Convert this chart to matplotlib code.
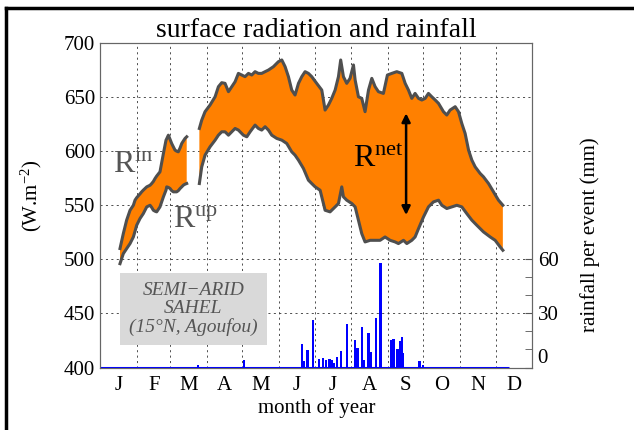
#! /usr/bin/env python3
#
# Seasonal cycle of surface radiation (incoming / upwelling envelope) and
# rainfall events at a semi-arid Sahel site.

import numpy as np
import matplotlib

matplotlib.use("Agg")
import matplotlib.pyplot as plt
from matplotlib.lines import Line2D

plt.rcParams["font.family"] = ["Liberation Serif", "DejaVu Serif"]
plt.rcParams["mathtext.fontset"] = "stix"

# Month labels (mid-month) and month boundaries, in day of year
months = ["J", "F", "M", "A", "M", "J", "J", "A", "S", "O", "N", "D"]
month_edges = [0, 31, 59, 90, 120, 151, 181, 212, 243, 273, 304, 334, 365]

# Radiation before the data gap (day of year, W m-2)
day_a = [16.5, 19.3, 22.1, 25.0, 27.8, 29.2, 30.6, 33.4, 34.8, 36.2, 39.1, 41.9,
         43.3, 44.7, 46.1, 47.5, 50.3, 53.2, 55.4, 56.0, 57.4, 58.8, 60.2, 61.6,
         63.0, 64.4, 65.8, 67.3, 68.7, 70.1, 71.5, 72.9]
rin_a = [510.0, 523.8, 536.2, 545.4, 550.0, 554.7, 557.0, 560.5, 562.4, 564.0,
         567.0, 568.5, 570.1, 572.0, 574.7, 577.0, 580.9, 597.9, 610.2, 611.5,
         614.8, 611.0, 607.1, 604.0, 601.0, 600.0, 599.4, 603.0, 607.1, 609.5,
         611.8, 613.3]
rup_a = [496.0, 505.3, 509.9, 514.6, 520.7, 526.0, 531.5, 537.7, 540.0, 542.3,
         548.5, 550.0, 548.0, 545.4, 544.5, 543.9, 548.5, 557.8, 564.0, 567.0,
         566.5, 565.5, 563.5, 562.4, 562.4, 562.4, 563.5, 565.5, 567.0, 568.6,
         569.5, 570.1]

# Incoming radiation after the gap
rin_day_b = [83.6, 85.6, 88.4, 92.6, 96.9, 99.7, 102.5, 105.3, 108.2, 111.0,
             113.8, 116.6, 119.4, 122.2, 125.1, 127.9, 130.7, 133.5, 136.3, 139.2,
             142.0, 146.2, 150.4, 153.3, 156.1, 158.9, 161.7, 164.5, 167.4, 170.2,
             173.0, 175.8, 178.6, 182.8, 187.1, 189.9, 192.7, 195.5, 198.4, 201.2,
             203.1, 205.4, 208.2, 211.0, 213.9, 215.3, 218.1, 220.9, 223.7, 226.6,
             229.4, 232.2, 235.0, 239.2, 242.6, 246.3, 250.5, 254.8, 257.6, 260.4,
             263.2, 266.0, 268.9, 271.7, 274.5, 277.3, 280.1, 283.0, 285.8, 290.0,
             292.8, 295.6, 299.9, 302.7, 305.5, 308.3, 311.2, 314.0, 316.8, 321.0,
             323.8, 328.1, 332.3, 336.5, 340.2]
rin_b = [621.0, 628.7, 636.5, 642.6, 650.3, 659.6, 663.3, 662.7, 655.0, 659.6,
         664.2, 671.9, 670.4, 668.9, 671.9, 670.4, 673.5, 671.9, 671.9, 673.5,
         675.0, 678.1, 682.7, 684.3, 678.1, 668.9, 656.5, 651.9, 662.7, 668.9,
         673.5, 671.9, 668.9, 662.7, 656.5, 638.0, 642.6, 648.8, 656.5, 668.9,
         684.3, 668.9, 662.7, 667.3, 679.7, 665.8, 650.3, 648.8, 636.5, 656.5,
         667.3, 659.6, 655.0, 653.4, 670.4, 671.9, 673.5, 671.9, 662.7, 656.5,
         648.8, 653.4, 648.8, 647.3, 648.8, 653.4, 650.3, 647.3, 644.2, 636.5,
         633.4, 638.0, 641.1, 636.5, 625.6, 616.4, 601.0, 591.7, 585.5, 579.4,
         576.3, 570.1, 562.4, 554.7, 550.0]

# Upwelling radiation after the gap
rup_day_b = [83.6, 85.6, 88.4, 92.6, 96.9, 99.7, 102.5, 105.3, 108.2, 111.0,
             113.8, 116.6, 120.8, 123.7, 126.5, 130.7, 133.5, 136.3, 139.2, 142.0,
             144.8, 149.0, 153.3, 157.5, 161.7, 164.5, 167.4, 171.6, 175.8, 178.6,
             181.5, 185.7, 189.9, 194.1, 198.4, 201.2, 204.0, 205.4, 208.2, 212.5,
             215.3, 218.1, 220.9, 223.7, 228.0, 232.2, 236.4, 240.6, 244.9, 249.1,
             251.9, 256.2, 259.0, 263.2, 266.0, 268.9, 273.1, 277.3, 281.5, 285.8,
             288.6, 292.8, 297.1, 301.3, 305.5, 309.7, 314.0, 318.2, 323.8, 329.5,
             333.7, 337.9, 340.2]
rup_b = [570.1, 585.5, 596.3, 604.0, 610.2, 614.8, 617.9, 617.9, 614.8, 617.9,
         621.0, 619.5, 614.8, 613.3, 617.9, 624.1, 621.0, 619.5, 622.6, 619.5,
         614.8, 611.8, 610.2, 607.1, 599.4, 596.3, 591.7, 584.0, 573.2, 570.1,
         567.0, 563.9, 545.4, 543.9, 548.5, 551.6, 567.0, 557.8, 554.7, 551.6,
         548.5, 536.2, 523.8, 516.1, 517.6, 517.6, 517.6, 520.7, 517.6, 516.1,
         514.6, 517.6, 514.6, 517.6, 520.7, 528.4, 539.2, 548.5, 553.1, 554.7,
         550.0, 547.0, 548.5, 550.0, 548.5, 542.3, 536.2, 531.5, 525.4, 520.7,
         517.6, 511.5, 508.4]

# Rainfall per event (day of year, mm)
rain_day = [82.7, 121.4, 170.7, 172.4, 175.0, 180.0, 185.1, 188.5, 190.8, 193.6,
            195.6, 197.8, 200.3, 203.4, 208.3, 215.3, 217.3, 220.9, 222.9, 226.6,
            228.8, 232.8, 236.7, 245.5, 247.7, 251.1, 253.4, 254.8, 256.1, 269.7,
            272.5]
rain_mm = [1.3, 4.0, 12.8, 3.7, 9.6, 26.3, 4.8, 5.2, 4.0, 4.6,
           4.0, 2.6, 5.9, 9.1, 24.4, 15.2, 10.6, 22.6, 4.4, 18.9,
           8.7, 27.2, 58.1, 15.2, 15.6, 10.0, 14.6, 16.7, 8.1, 3.7,
           1.3]
rain_period = [0, 345]

# Net radiation arrow (day, bottom, top)
rnet_day = 258.4
rnet_span = [541, 635]

ORANGE = "#ff8000"
EDGE = "#4f4f4f"
LABEL_GRAY = "#555555"

fig = plt.figure(figsize=(6.34, 4.30), dpi=100)
ax = fig.add_axes([0.1585, 0.1453, 0.6809, 0.7547])
ax2 = ax.twinx()

# Radiation envelope: fill between the two curves, then outline them
for d_in, v_in, d_up, v_up in [(day_a, rin_a, day_a, rup_a),
                               (rin_day_b, rin_b, rup_day_b, rup_b)]:
    px = np.concatenate([d_in, d_up[::-1]])
    py = np.concatenate([v_in, v_up[::-1]])
    ax.fill(px, py, color=ORANGE, lw=0, zorder=2)
    ax.plot(d_in, v_in, color=EDGE, lw=2.2, zorder=3, solid_joinstyle="round")
    ax.plot(d_up, v_up, color=EDGE, lw=2.2, zorder=3, solid_joinstyle="round")

ax.set_xlim(month_edges[0], month_edges[-1])
ax.set_ylim(400, 700)
ax.set_yticks(np.arange(400, 701, 50))
ax.set_xticks(month_edges)
ax.set_xticklabels([])
mids = [(a + b) / 2 for a, b in zip(month_edges[:-1], month_edges[1:])]
ax.set_xticks(mids, minor=True)
ax.set_xticklabels(months, minor=True)
ax.tick_params(axis="x", which="major", length=0)
ax.tick_params(axis="x", which="minor", length=0, labelsize=15, pad=6)
ax.tick_params(axis="y", direction="in", length=0, labelsize=15, pad=4)
ax.grid(True, which="major", color="#333333", lw=0.6, ls=(0, (2.5, 4)))
for s in ax.spines.values():
    s.set_color("#666666")
    s.set_linewidth(0.8)

ax.set_xlabel("month of year", fontsize=15, labelpad=2)
ax.set_ylabel(r"(W.m$^{\mathregular{-2}}$)", fontsize=15)
ax.yaxis.set_label_coords(-0.13, 0.53)
ax.set_title("surface radiation and rainfall", fontsize=20, pad=4)

# Labels for the curves
ax.text(10.6, 579.6, r"$\mathregular{R^{in}}$", fontsize=23, color=LABEL_GRAY,
        ha="left", va="baseline", zorder=4)
ax.text(61.3, 529.6, r"$\mathregular{R^{up}}$", fontsize=23, color=LABEL_GRAY,
        ha="left", va="baseline", zorder=4)
ax.text(213.6, 585.0, r"$\mathregular{R^{net}}$", fontsize=23, color="black",
        ha="left", va="baseline", zorder=4)
ax.annotate("", xy=(rnet_day, rnet_span[1]), xytext=(rnet_day, rnet_span[0]),
            arrowprops=dict(arrowstyle="<|-|>,head_length=0.5,head_width=0.25",
                            color="black", lw=1.8, shrinkA=0, shrinkB=0),
            zorder=5)

ax.text(78.6, 454, "SEMI\u2212ARID\nSAHEL\n(15\u00b0N, Agoufou)", fontsize=14,
        style="italic", color=LABEL_GRAY, ha="center", va="center",
        linespacing=1.1, zorder=4,
        bbox=dict(boxstyle="square,pad=0.45", fc="#d9d9d9", ec="none"))

# Rainfall bars on the right axis
ax2.plot(rain_period, [0, 0], color="#0000ff", lw=2.2, solid_capstyle="butt",
         zorder=2)
ax2.bar(rain_day, rain_mm, width=1.8, color="#0000ff", lw=0, zorder=3)
ax2.set_ylim(0, 180)
ax2.set_yticks([0, 30, 60])
ax2.set_yticks([10, 20, 40, 50], minor=True)
ax2.tick_params(axis="y", which="both", direction="in", length=5,
                color="#555555", labelsize=15, pad=4)
ax2.tick_params(axis="y", which="minor", labelright=False)
for lbl in ax2.get_yticklabels():
    if lbl.get_text() == "0":
        lbl.set_va("bottom")
ax2.set_ylabel("rainfall per event (mm)", fontsize=15, rotation=90)
ax2.yaxis.set_label_coords(1.11, 0.41)
for s in ax2.spines.values():
    s.set_color("#666666")
    s.set_linewidth(0.8)

# Outer frame edges
fig.add_artist(Line2D([0.0095, 0.0095], [0, 0.981], color="black", lw=2.5,
                      transform=fig.transFigure))
fig.add_artist(Line2D([0.0095, 1], [0.981, 0.981], color="black", lw=2.5,
                      transform=fig.transFigure))

fig.savefig("out.png", dpi=100)
